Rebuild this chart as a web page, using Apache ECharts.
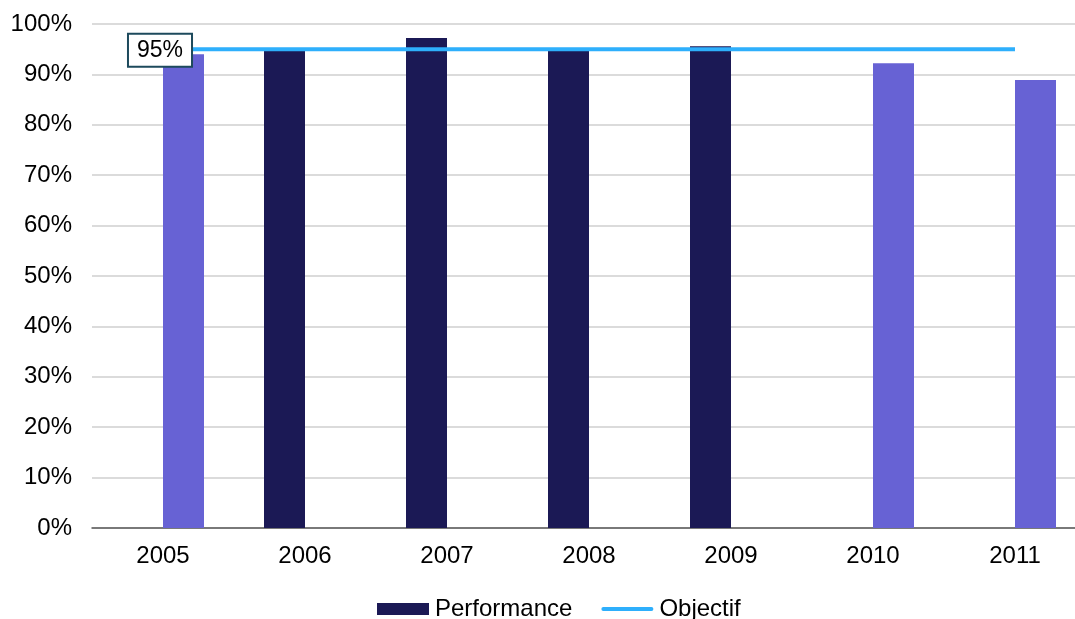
<!DOCTYPE html>
<html>
<head>
<meta charset="utf-8">
<script src="https://cdn.jsdelivr.net/npm/echarts@6/dist/echarts.min.js"></script>
<style>
  html, body { margin: 0; padding: 0; background: #fff; }
  #chart { width: 1075px; height: 619px; }
</style>
</head>
<body>
<div id="chart"></div>
<script>
// years on the x axis
var years = ['2005', '2006', '2007', '2008', '2009', '2010', '2011'];
// dark bars (Performance)
var performance = [null, 95, 97.2, 95, 95.6, null, null];
// light bars (same measure, other colour)
var performanceAlt = [94, null, null, null, null, 92.2, 88.9];
// target line
var objectif = [95, 95, 95, 95, 95, 95, 95];

var chart = echarts.init(document.getElementById('chart'));
var font = 'Liberation Sans, Arial, sans-serif';

// only the first point of the target line carries the boxed label
var objectifData = objectif.map(function (v, i) {
  if (i !== 0) return v;
  return { value: v, label: { show: true } };
});

chart.setOption({
  animation: false,
  grid: { left: 92, width: 994, top: 24, height: 504, outerBoundsMode: 'none', containLabel: false },
  legend: {
    top: 597,
    left: 377,
    padding: 0,
    itemWidth: 52,
    itemHeight: 12,
    itemGap: 29,
    symbolKeepAspect: true,
    textStyle: { fontFamily: font, fontSize: 24, color: '#000', padding: [0, 0, 0, 1] },
    data: [
      { name: 'Performance', icon: 'rect' },
      { name: 'Objectif', icon: 'path://M2,0 L53,0 A2,2 0 0 1 53,4 L2,4 A2,2 0 0 1 2,0 Z' }
    ]
  },
  xAxis: {
    type: 'category',
    data: years,
    axisTick: { show: false },
    axisLine: { lineStyle: { color: '#595959', width: 1.5 } },
    axisLabel: { fontFamily: font, fontSize: 24, color: '#000', margin: 16 }
  },
  yAxis: {
    type: 'value',
    min: 0, max: 100, interval: 10,
    axisLine: { show: false },
    axisTick: { show: false },
    splitLine: { lineStyle: { color: '#cfcfcf', width: 1.5 } },
    axisLabel: { fontFamily: font, fontSize: 24, color: '#000', margin: 20, formatter: '{value}%' }
  },
  series: [
    {
      name: 'Performance', type: 'bar', data: performance,
      barWidth: 41, barGap: '0%',
      itemStyle: { color: '#1b1955' }
    },
    {
      name: 'Performance (b)', type: 'bar', data: performanceAlt,
      barWidth: 41, barGap: '0%',
      itemStyle: { color: '#6762d4' }
    },
    {
      name: 'Objectif', type: 'line', data: objectifData,
      symbol: 'circle', symbolSize: 0, showSymbol: true, z: 5,
      lineStyle: { color: '#2eaffc', width: 4 },
      itemStyle: { color: '#2eaffc' },
      label: {
        show: false,
        position: 'inside',
        offset: [-3, 1],
        formatter: '{c}%',
        fontFamily: font, fontSize: 23, lineHeight: 24, color: '#000',
        backgroundColor: '#fff',
        borderColor: '#1d4a5c', borderWidth: 2,
        padding: [4, 8, 3, 8]
      }
    }
  ]
});
</script>
</body>
</html>
